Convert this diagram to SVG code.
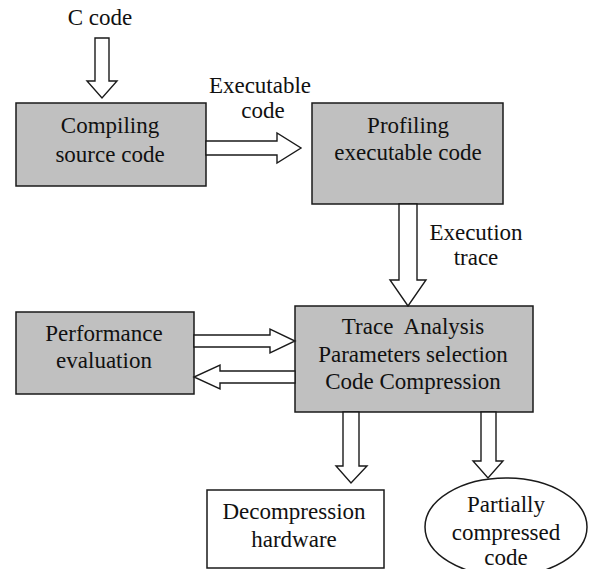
<svg xmlns="http://www.w3.org/2000/svg" width="591" height="569" viewBox="0 0 591 569">
<style>
.t text{font-family:'Liberation Serif','Times New Roman',serif;font-size:23px;fill:#111;text-anchor:middle}
.box{fill:#c0c0c0;stroke:#1a1a1a;stroke-width:1.5}
.wbox{fill:#fff;stroke:#1a1a1a;stroke-width:1.5}
.arr{fill:#fff;stroke:#1a1a1a;stroke-width:1.4;stroke-linejoin:miter}
</style>
<rect width="591" height="569" fill="#fff"/>
<g class="t">
<g id="label-ccode"><text x="100" y="25">C code</text></g>
<g id="label-exec"><text x="260" y="93">Executable</text><text x="263" y="118">code</text></g>
<g id="label-trace"><text x="476" y="240">Execution</text><text x="476" y="265">trace</text></g>
<g id="compiling"><rect class="box" x="16" y="103" width="190" height="83"/><text x="110" y="133">Compiling</text><text x="110" y="162">source code</text></g>
<g id="profiling"><rect class="box" x="312" y="103" width="191" height="101"/><text x="408" y="133">Profiling</text><text x="408" y="160">executable code</text></g>
<g id="analysis"><rect class="box" x="295" y="306" width="238" height="106"/><text x="413" y="334" xml:space="preserve" style="white-space:pre">Trace  Analysis</text><text x="413" y="362">Parameters selection</text><text x="413" y="389">Code Compression</text></g>
<g id="performance"><rect class="box" x="16" y="312" width="178" height="82"/><text x="104" y="341">Performance</text><text x="104" y="368">evaluation</text></g>
<g id="decompression"><rect class="wbox" x="207" y="490" width="177" height="78"/><text x="294" y="519">Decompression</text><text x="294" y="547">hardware</text></g>
<g id="partial"><ellipse class="wbox" cx="506" cy="527" rx="81" ry="49"/><text x="506" y="512">Partially</text><text x="506" y="540">compressed</text><text x="506" y="565">code</text></g>
</g>
<g id="connectors">
<polygon class="arr" points="95,38 109,38 109,81 117,81 102,98 87,81 95,81"/>
<polygon class="arr" points="206,141 277,141 277,133 301,148 277,163 277,155 206,155"/>
<polygon class="arr" points="399,204 417,204 417,280 426,280 408,306 390,280 399,280"/>
<polygon class="arr" points="194,335 270,335 270,329 295,341 270,353 270,347 194,347"/>
<polygon class="arr" points="295,371 220,371 220,365 194,377 220,389 220,383 295,383"/>
<polygon class="arr" points="343,412 359,412 359,466 367,466 351,483 336,466 343,466"/>
<polygon class="arr" points="481,412 496,412 496,461 503,461 488,478 473,461 481,461"/>
</g>
</svg>
